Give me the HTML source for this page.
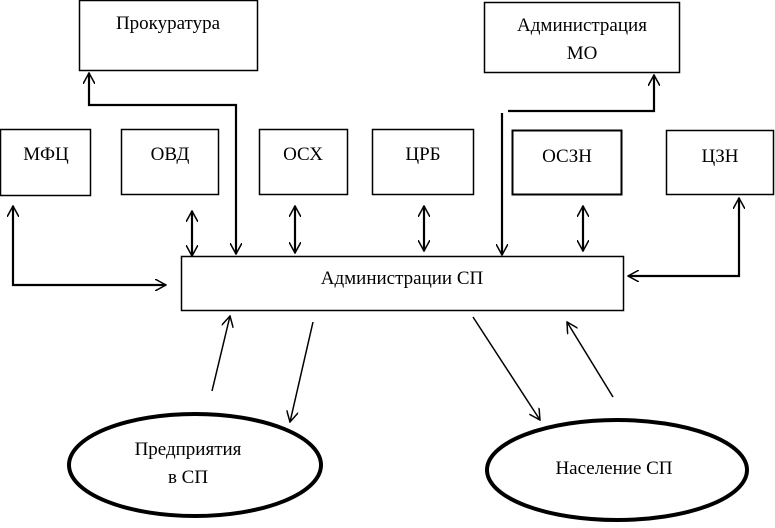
<!DOCTYPE html>
<html><head><meta charset="utf-8"><style>
body{margin:0;background:#fff}
svg{display:block}
text{font-family:"Liberation Serif",serif;font-size:19px;fill:#000}
</style></head><body>
<svg width="775" height="528" viewBox="0 0 775 528">
<defs>
<marker id="a" viewBox="0 0 12 12" refX="11" refY="6" markerWidth="12" markerHeight="12" markerUnits="userSpaceOnUse" orient="auto-start-reverse">
<path d="M0,0 L11,6 L0,12" fill="none" stroke="#000" stroke-width="1.5"/>
</marker>
</defs>
<g fill="none" stroke="#000">
<rect x="79.5" y="0.5" width="178" height="70" stroke-width="1.5"/>
<rect x="484.5" y="2.5" width="195" height="70" stroke-width="1.5"/>
<rect x="0.5" y="129.5" width="90" height="66" stroke-width="1.5"/>
<rect x="121.5" y="129.5" width="97" height="65" stroke-width="1.5"/>
<rect x="259.5" y="129.5" width="88" height="65" stroke-width="1.5"/>
<rect x="372.5" y="129.5" width="101" height="65" stroke-width="1.5"/>
<rect x="512.5" y="130.5" width="109" height="64" stroke-width="2"/>
<rect x="666.5" y="130.5" width="107" height="64" stroke-width="1.5"/>
<rect x="181.5" y="256.5" width="442" height="54" stroke-width="1.5"/>
<g stroke-width="2.2">
<polyline points="236,254 236,105 89,105 89,73" marker-start="url(#a)" marker-end="url(#a)"/>
<line x1="502" y1="113" x2="502" y2="255" marker-end="url(#a)"/>
<polyline points="508,111 654,111 654,75" marker-end="url(#a)"/>
<polyline points="13,206 13,285 166,285" marker-start="url(#a)" marker-end="url(#a)"/>
<line x1="192" y1="211" x2="192" y2="256" marker-start="url(#a)" marker-end="url(#a)"/>
<line x1="295" y1="206" x2="295" y2="253" marker-start="url(#a)" marker-end="url(#a)"/>
<line x1="424" y1="206" x2="424" y2="251" marker-start="url(#a)" marker-end="url(#a)"/>
<line x1="583" y1="206" x2="583" y2="251" marker-start="url(#a)" marker-end="url(#a)"/>
<polyline points="739,198 739,276 628,276" marker-start="url(#a)" marker-end="url(#a)"/>
</g>
<g stroke-width="1.5">
<line x1="212" y1="391" x2="230" y2="316" marker-end="url(#a)"/>
<line x1="313" y1="322" x2="290" y2="422" marker-end="url(#a)"/>
<line x1="473" y1="317" x2="540" y2="420" marker-end="url(#a)"/>
<line x1="613" y1="397" x2="567" y2="322" marker-end="url(#a)"/>
</g>
<ellipse cx="195" cy="465" rx="126" ry="51" stroke-width="4"/>
<ellipse cx="617" cy="470" rx="130" ry="50" stroke-width="4"/>
</g>
<g text-anchor="middle">
<text x="168" y="29">Прокуратура</text>
<text x="582" y="31">Администрация</text>
<text x="582" y="59">МО</text>
<text x="46" y="160">МФЦ</text>
<text x="170" y="160">ОВД</text>
<text x="303" y="160">ОСХ</text>
<text x="423" y="160">ЦРБ</text>
<text x="567" y="162">ОСЗН</text>
<text x="720" y="162">ЦЗН</text>
<text x="402" y="284">Администрации СП</text>
<text x="188" y="455">Предприятия</text>
<text x="188" y="483">в СП</text>
<text x="614" y="474">Население СП</text>
</g>
</svg>
</body></html>
